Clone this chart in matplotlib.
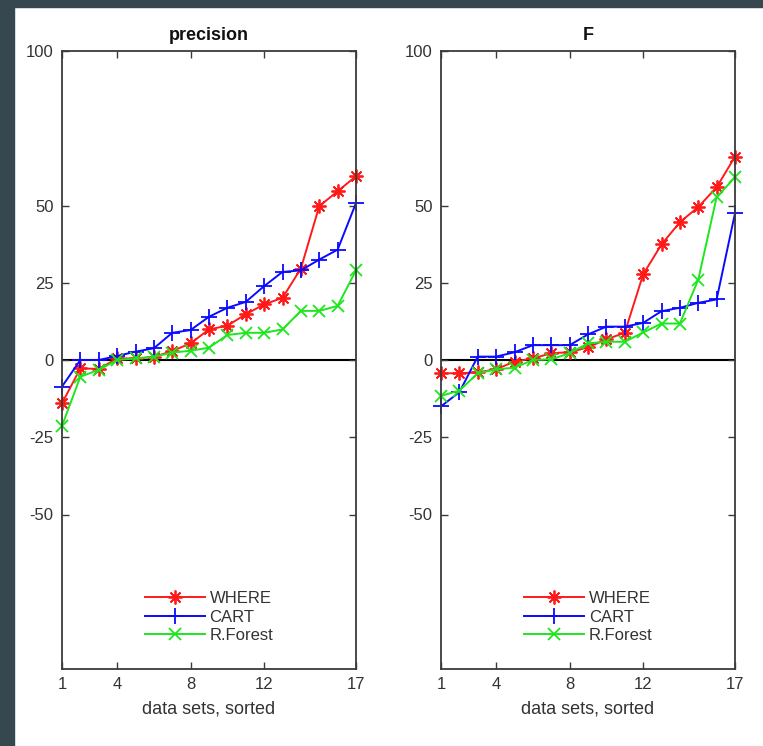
import matplotlib
matplotlib.use("Agg")
import matplotlib.pyplot as plt
from matplotlib.patches import Rectangle

plt.rcParams['font.family'] = ['Liberation Sans', 'DejaVu Sans']
plt.rcParams['axes.unicode_minus'] = False

# data sets 1..17, sorted
x = list(range(1, 18))

# precision panel
prec_where = [-14.0, -2.7, -2.9, 0.5, 0.5, 1.0, 2.9, 5.4, 9.9, 11.1, 14.8, 18.0, 20.1, 29.6, 49.8, 54.6, 59.5]
prec_cart = [-8.6, 0.0, 0.0, 1.3, 2.7, 3.8, 8.8, 9.7, 14.0, 16.9, 18.8, 23.9, 28.5, 29.0, 32.5, 35.7, 50.8]
prec_rf = [-21.3, -5.4, -3.2, 0.0, 0.5, 1.0, 2.4, 3.0, 4.0, 8.1, 8.8, 8.8, 9.9, 15.9, 15.9, 17.5, 29.0]

# F panel
f_where = [-4.3, -4.3, -4.0, -3.0, -0.5, 0.5, 2.2, 2.5, 4.1, 6.7, 8.8, 27.7, 37.4, 44.6, 49.5, 55.9, 65.8]
f_cart = [-15.0, -10.4, 1.1, 1.1, 2.5, 4.8, 4.8, 4.8, 8.3, 10.8, 10.8, 12.0, 15.8, 16.9, 18.5, 19.6, 47.5]
f_rf = [-11.6, -9.9, -4.3, -3.0, -2.5, 0.0, 0.2, 2.2, 5.4, 5.9, 5.9, 8.9, 11.8, 11.8, 26.0, 52.7, 59.1]

xticks = [1, 4, 8, 12, 17]
yticks = [-50, -25, 0, 25, 50, 100]

fig = plt.figure(figsize=(7.63, 7.46), dpi=100)

# dark frame on the left and top
fig.patches.append(Rectangle((0, 0), 14 / 763, 1, transform=fig.transFigure,
                             color='#37474f', zorder=-10))
fig.patches.append(Rectangle((0, 1 - 7 / 746), 1, 7 / 746, transform=fig.transFigure,
                             color='#37474f', zorder=-10))

panels = [
    ("precision", prec_where, prec_cart, prec_rf, 62 / 763),
    ("F", f_where, f_cart, f_rf, 441 / 763),
]

asterisk = (8, 2, 0)
for title, w, c, r, left in panels:
    ax = fig.add_axes([left, 1 - 669 / 746, 294 / 763, 618 / 746])
    ax.plot([1, 17], [0, 0], color='black', lw=1.5, zorder=1)
    ax.plot(x, w, color='#ff1a1a', lw=1.4, marker=asterisk, ms=10, mew=1.3,
            label='WHERE', clip_on=False)
    ax.plot(x, c, color='#0a0aff', lw=1.4, marker='+', ms=12, mew=1.3,
            label='CART', clip_on=False)
    ax.plot(x, r, color='#1ee61e', lw=1.4, marker='x', ms=8, mew=1.3,
            label='R.Forest', clip_on=False)

    ax.set_xlim(1, 17)
    ax.set_ylim(-100, 100)
    ax.set_xticks(xticks)
    ax.set_yticks(yticks)
    ax.tick_params(direction='in', top=True, right=True, length=5, width=1,
                   labelsize=12, colors='#3a3a3a', labelcolor='#333333', pad=6)
    for s in ax.spines.values():
        s.set_color('#3a3a3a')
        s.set_linewidth(1.3)
    ax.set_title(title, fontsize=13, fontweight='bold', color='#111111', pad=8)
    ax.set_xlabel("data sets, sorted", fontsize=13, color='#333333', labelpad=6)
    leg = ax.legend(loc='lower center', bbox_to_anchor=(0.5, 0.018), frameon=False,
                    handlelength=3.6, handletextpad=0.3, labelspacing=0.2,
                    fontsize=12)
    for t in leg.get_texts():
        t.set_color('#333333')

fig.savefig("out.png", dpi=100)
